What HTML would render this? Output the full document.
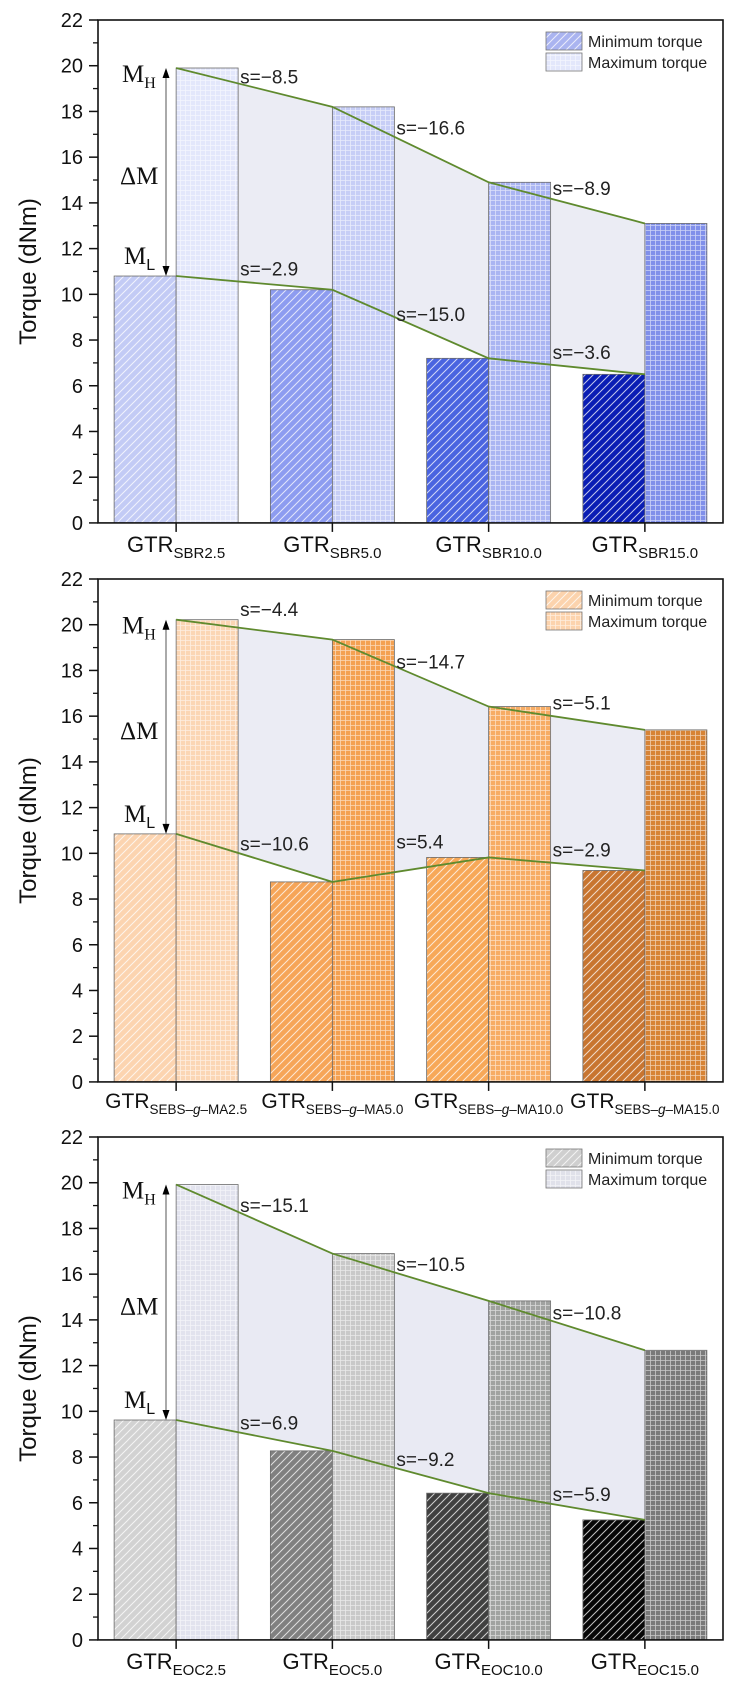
<!DOCTYPE html>
<html><head><meta charset="utf-8"><style>
html,body{margin:0;padding:0;background:#fff;}
svg{display:block;font-family:"Liberation Sans",sans-serif;}
</style></head><body>
<svg id="chart" xmlns="http://www.w3.org/2000/svg" width="736" height="1687" viewBox="0 0 736 1687">
<defs id="defs"></defs>
</svg>
<script>
const NS="http://www.w3.org/2000/svg";
// ---- data ----
const yTicks=[0,2,4,6,8,10,12,14,16,18,20,22];
const sbrCats=["SBR2.5","SBR5.0","SBR10.0","SBR15.0"];
const sbrMin=[10.8,10.2,7.2,6.5];
const sbrMax=[19.9,18.2,14.9,13.1];
const sbrSlopeMax=["s=\u22128.5","s=\u221216.6","s=\u22128.9"];
const sbrSlopeMin=["s=\u22122.9","s=\u221215.0","s=\u22123.6"];
const sebsCats=["SEBS\u2013g\u2013MA2.5","SEBS\u2013g\u2013MA5.0","SEBS\u2013g\u2013MA10.0","SEBS\u2013g\u2013MA15.0"];
const sebsMin=[10.85,8.75,9.82,9.25];
const sebsMax=[20.22,19.35,16.42,15.4];
const sebsSlopeMax=["s=\u22124.4","s=\u221214.7","s=\u22125.1"];
const sebsSlopeMin=["s=\u221210.6","s=5.4","s=\u22122.9"];
const eocCats=["EOC2.5","EOC5.0","EOC10.0","EOC15.0"];
const eocMin=[9.62,8.27,6.42,5.25];
const eocMax=[19.92,16.9,14.83,12.67];
const eocSlopeMax=["s=\u221215.1","s=\u221210.5","s=\u221210.8"];
const eocSlopeMin=["s=\u22126.9","s=\u22129.2","s=\u22125.9"];

const panels=[
 {key:"sbr",top:20,cats:sbrCats,min:sbrMin,max:sbrMax,sMax:sbrSlopeMax,sMin:sbrSlopeMin,
  minCol:["#c3cbf5","#8d9cf0","#4a64e0","#0a1db4"],maxCol:["#e3e7fb","#c7cef6","#aab5f2","#808fea"],
  legMin:"#aab4f0",legMax:"#e3e7fb",shade:"#ebecf4",dMax:[10,15,14],dMin:[14,8,14],lblDy:29,sub:false},
 {key:"sebs",top:579,cats:sebsCats,min:sebsMin,max:sebsMax,sMax:sebsSlopeMax,sMin:sebsSlopeMin,
  minCol:["#fcd4b0","#f6a558","#f7a858","#c87530"],maxCol:["#fbd6b4","#f4a152","#f7ac64","#d78335"],
  legMin:"#fcd3ad",legMax:"#fcd3ad",shade:"#ebecf4",dMax:[20,10,15],dMin:[13,29,14],lblDy:26,sub:true},
 {key:"eoc",top:1137,cats:eocCats,min:eocMin,max:eocMax,sMax:eocSlopeMax,sMin:eocSlopeMin,
  minCol:["#d2d2d2","#808080","#404040","#060606"],maxCol:["#e2e3ee","#c9c9c9","#a0a2a0","#7a7a7a"],
  legMin:"#cfcfcf",legMax:"#e0e1ea",shade:"#e9eaf3",dMax:[12,12,12],dMin:[12,12,12],lblDy:29,sub:false}
];
const X0=98,X1=723,GW=156.25,BW=62,UNIT=22.86;
const svg=document.getElementById("chart");
const defs=document.getElementById("defs");
function mk(tag,attrs,parent){const e=document.createElementNS(NS,tag);for(const k in attrs)e.setAttribute(k,attrs[k]);(parent||svg).appendChild(e);return e;}
let pid=0;
function hatch(col){const id="h"+(pid++);const p=mk("pattern",{id:id,patternUnits:"userSpaceOnUse",width:8,height:8},defs);
 mk("rect",{width:8,height:8,fill:col},p);
 mk("path",{d:"M-2,2 L2,-2 M0,8 L8,0 M6,10 L10,6",stroke:"#fff","stroke-width":1,"stroke-opacity":0.75},p);return "url(#"+id+")";}
function grid(col){const id="g"+(pid++);const p=mk("pattern",{id:id,patternUnits:"userSpaceOnUse",width:5,height:5},defs);
 mk("rect",{width:5,height:5,fill:col},p);
 mk("path",{d:"M0,0.5 H5 M0.5,0 V5",stroke:"#fff","stroke-width":0.8,"stroke-opacity":0.6},p);return "url(#"+id+")";}

panels.forEach((P,pi)=>{
 const g=mk("g",{});
 
 
 const T=P.top,B=T+22*UNIT;
 const y=v=>B-v*UNIT;
 const tick=i=>X0+GW*(i+0.5);
 // shaded region
 let pts=P.max.map((v,i)=>tick(i)+","+y(v)).join(" ")+" "+P.min.map((v,i)=>tick(i)+","+y(v)).reverse().join(" ");
 const sh=mk("polygon",{points:pts,fill:P.shade},g);
 
 
 // bars
 P.min.forEach((v,i)=>{
  const r=mk("rect",{x:tick(i)-BW,y:y(v),width:BW,height:v*UNIT,fill:hatch(P.minCol[i]),stroke:"#6b6b6b","stroke-width":0.8},g);
  
  
 });
 P.max.forEach((v,i)=>{
  const r=mk("rect",{x:tick(i),y:y(v),width:BW,height:v*UNIT,fill:grid(P.maxCol[i]),stroke:"#6b6b6b","stroke-width":0.8},g);
  
  
 });
 // lines
 [["max",P.max],["min",P.min]].forEach(([n,arr])=>{
  const l=mk("polyline",{points:arr.map((v,i)=>tick(i)+","+y(v)).join(" "),fill:"none",stroke:"#5f8a2e","stroke-width":1.8},g);
  
  
 });
 // slope labels
 function lineY(arr,x){const i=Math.min(2,Math.floor((x-tick(0))/GW));const f=(x-tick(i))/GW;return y(arr[i]+(arr[i+1]-arr[i])*f);}
 [[P.sMax,P.max,P.dMax,"max"],[P.sMin,P.min,P.dMin,"min"]].forEach(([labs,arr,dys,n])=>{
  labs.forEach((s,i)=>{const x=tick(i)+BW+2;
   const t=mk("text",{x:x,y:lineY(arr,x+10)-dys[i]+7,"font-size":19,fill:"#222"},g);t.textContent=s;
   
   });
 });
 // MH / ML arrow
 const ax=166,ya=y(P.max[0]),yb=y(P.min[0]);
 const ar=mk("g",{},g);
 
 
 mk("line",{x1:ax,y1:ya+8,x2:ax,y2:yb-8,stroke:"#555","stroke-width":1},ar);
 mk("polygon",{points:`${ax-3.5},${ya+10} ${ax+3.5},${ya+10} ${ax},${ya}`,fill:"#000"},ar);
 mk("polygon",{points:`${ax-3.5},${yb-10} ${ax+3.5},${yb-10} ${ax},${yb}`,fill:"#000"},ar);
 const mh=mk("text",{x:122,y:ya+14,"font-size":25,"font-family":"Liberation Serif, serif",fill:"#111"},g);
 mh.innerHTML='M<tspan font-size="16" dy="6">H</tspan>';
 
 
 const dm=mk("text",{x:120,y:(ya+yb)/2+12,"font-size":25,"font-family":"Liberation Serif, serif",fill:"#111"},g);
 dm.textContent="\u0394M";
 
 
 const ml=mk("text",{x:124,y:yb-12,"font-size":25,"font-family":"Liberation Serif, serif",fill:"#111"},g);
 ml.innerHTML='M<tspan font-size="16" dy="6" font-family="Liberation Sans, sans-serif">L</tspan>';
 
 
 // frame
 const fr=mk("rect",{x:X0,y:T,width:X1-X0,height:B-T,fill:"none",stroke:"#111","stroke-width":1.6},g);
 
 
 // y ticks
 yTicks.forEach(v=>{
  mk("line",{x1:X0-9,x2:X0,y1:y(v),y2:y(v),stroke:"#111","stroke-width":1.5},g);
  if(v<22)mk("line",{x1:X0-5,x2:X0,y1:y(v+1),y2:y(v+1),stroke:"#111","stroke-width":1.3},g);
  const t=mk("text",{x:83,y:y(v)+7,"font-size":20,"text-anchor":"end",fill:"#111"},g);t.textContent=v;
  
  
 });
 // x ticks and labels
 P.cats.forEach((c,i)=>{
  mk("line",{x1:tick(i),x2:tick(i),y1:B,y2:B+9,stroke:"#111","stroke-width":1.5},g);
  const t=mk("text",{x:tick(i),y:B+P.lblDy,"font-size":P.sub?21:22,"text-anchor":"middle",fill:"#111"},g);
  if(P.sub){const parts=c.split("g");t.innerHTML='GTR<tspan font-size="13.5" dy="6">'+parts[0]+'<tspan font-style="italic">g</tspan>'+parts[1]+'</tspan>';}
  else t.innerHTML='GTR<tspan font-size="15" dy="6">'+c+'</tspan>';
  
  
 });
 // y title
 const yt=mk("text",{x:0,y:0,"font-size":24,"text-anchor":"middle",fill:"#111",transform:`translate(36,${(T+B)/2}) rotate(-90)`},g);
 yt.textContent="Torque (dNm)";
 
 
 // legend
 const lg=mk("g",{},g);
 
 
 const e1=mk("rect",{x:546,y:T+12,width:36,height:18,fill:hatch(P.legMin),stroke:"#777","stroke-width":0.8},lg);
 
 
 const e2=mk("rect",{x:546,y:T+33,width:36,height:18,fill:grid(P.legMax),stroke:"#777","stroke-width":0.8},lg);
 
 
 const t1=mk("text",{x:588,y:T+27,"font-size":16,fill:"#222"},lg);t1.textContent="Minimum torque";
 
 
 const t2=mk("text",{x:588,y:T+48,"font-size":16,fill:"#222"},lg);t2.textContent="Maximum torque";
 
 
});
</script>
</body></html>
